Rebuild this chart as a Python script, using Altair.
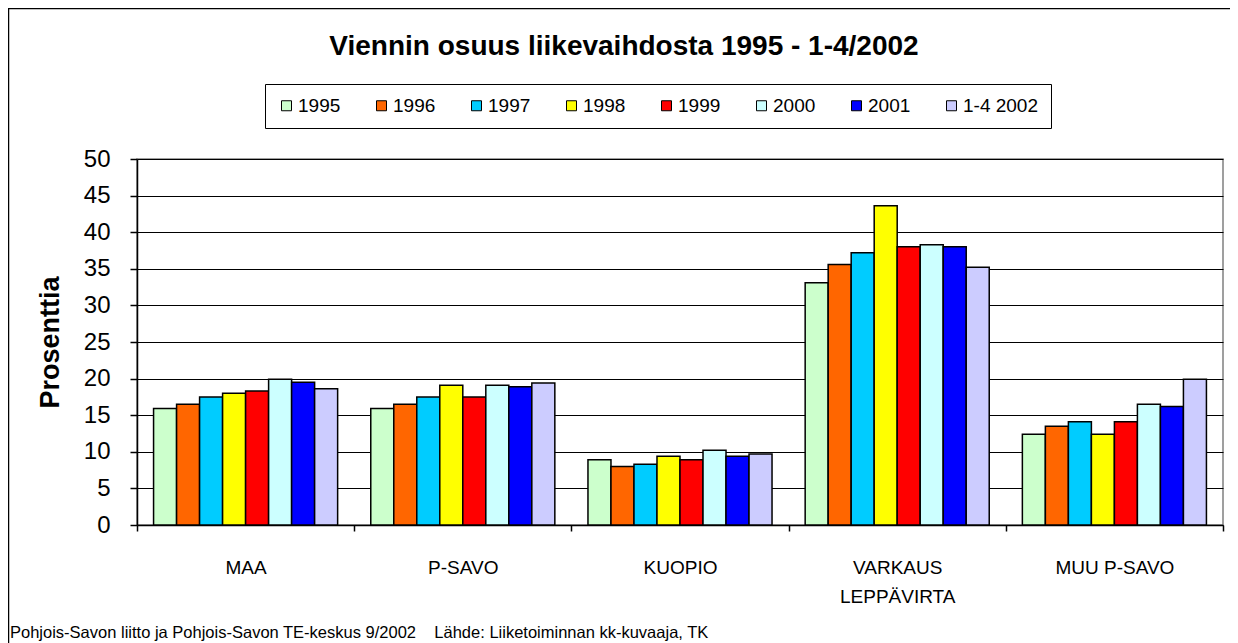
import altair as alt
import pandas as pd

categories = ["MAA", "P-SAVO", "KUOPIO", "VARKAUS\nLEPPÄVIRTA", "MUU P-SAVO"]
years = ["1995", "1996", "1997", "1998", "1999", "2000", "2001", "1-4 2002"]
colors = ["#CCFFCC", "#FF6600", "#00CCFF", "#FFFF00", "#FF0000", "#CCFFFF", "#0000FF", "#CCCCFF"]

v1995 = [15.9, 15.9, 8.9, 33.1, 12.4]
v1996 = [16.5, 16.5, 8.0, 35.6, 13.5]
v1997 = [17.5, 17.5, 8.3, 37.2, 14.1]
v1998 = [18.0, 19.1, 9.4, 43.6, 12.4]
v1999 = [18.3, 17.5, 8.9, 38.0, 14.1]
v2000 = [19.9, 19.1, 10.2, 38.3, 16.5]
v2001 = [19.5, 18.9, 9.4, 38.0, 16.2]
v2002 = [18.6, 19.4, 9.7, 35.2, 19.9]
series = [v1995, v1996, v1997, v1998, v1999, v2000, v2001, v2002]

title_text = "Viennin osuus liikevaihdosta 1995 - 1-4/2002"
footer_text = "Pohjois-Savon liitto ja Pohjois-Savon TE-keskus 9/2002\u00a0\u00a0\u00a0\u00a0Lähde: Liiketoiminnan kk-kuvaaja, TK"
y_title = "Prosenttia"

rows = []
for yr, vals in zip(years, series):
    for c, v in zip(categories, vals):
        rows.append({"cat": c, "year": yr, "value": v})
df = pd.DataFrame(rows)

FONT = "Liberation Sans"

bars = alt.Chart(df).mark_bar(stroke="black", strokeWidth=1.5).encode(
    x=alt.X("cat:N", sort=categories, title=None,
            scale=alt.Scale(paddingInner=0, paddingOuter=0),
            axis=alt.Axis(labelAngle=0, labelFontSize=19, labelColor="black",
                          labelExpr="split(datum.label, '\\n')", labelLineHeight=29,
                          labelPadding=27, labelBaseline="top",
                          tickBand="extent", tickSize=6, tickColor="black", tickWidth=1.5,
                          domainColor="black", domainWidth=1.5, grid=False)),
    xOffset=alt.XOffset("year:N", sort=years,
                        scale=alt.Scale(paddingInner=0, paddingOuter=0.72)),
    y=alt.Y("value:Q", title=y_title,
            scale=alt.Scale(domain=[0, 50], nice=False),
            axis=alt.Axis(values=list(range(0, 51, 5)), labelFontSize=24, labelColor="black",
                          labelPadding=20, tickSize=7, tickColor="black", tickWidth=1.5,
                          domainColor="black", domainWidth=1.5,
                          grid=True, gridColor="black", gridWidth=1.2,
                          titleFontSize=27, titleFontWeight="bold", titleColor="black",
                          titlePadding=19)),
    color=alt.Color("year:N", sort=years, title=None,
                    scale=alt.Scale(domain=years, range=colors),
                    legend=alt.Legend(orient="none", legendX=128, legendY=-75,
                                      direction="horizontal", columns=8,
                                      symbolType="square", symbolSize=100,
                                      symbolStrokeColor="black", symbolStrokeWidth=1,
                                      labelFontSize=19, labelColor="black",
                                      labelOffset=2,
                                      columnPadding=31, gridAlign="each",
                                      strokeColor="black", padding=12, fillColor="white")),
)

title_mark = alt.Chart(pd.DataFrame({"t": [title_text]})).mark_text(
    fontSize=28, fontWeight="bold", color="black", align="center", baseline="middle"
).encode(x=alt.value(487), y=alt.value(-112), text="t:N")

footer_mark = alt.Chart(pd.DataFrame({"t": [footer_text]})).mark_text(
    fontSize=16.5, color="black", align="left", baseline="bottom"
).encode(x=alt.value(-127), y=alt.value(482), text="t:N")

frame = alt.Chart(pd.DataFrame({"t": [0]})).mark_rect(
    fill=None, stroke="black", strokeWidth=2.5, clip=False
).encode(x=alt.value(-129), x2=alt.value(1200), y=alt.value(-151), y2=alt.value(600))

chart = alt.layer(frame, bars, title_mark, footer_mark).properties(
    width=1086, height=366,
    autosize=alt.AutoSizeParams(type="none"),
    padding={"left": 129, "top": 151, "right": 7, "bottom": 118},
).configure(font=FONT).configure_view(stroke="#808080", strokeWidth=1.5)

chart.save("out.html", embed_options={"renderer": "svg", "actions": False})
